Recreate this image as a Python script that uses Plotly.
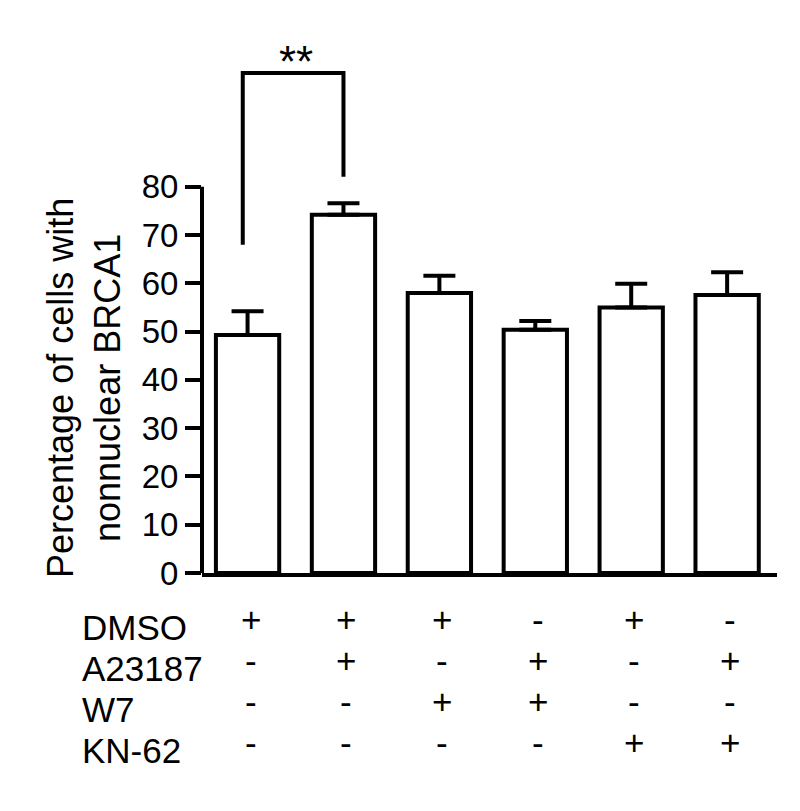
import plotly.graph_objects as go

# bar data (percentage of cells with nonnuclear BRCA1)
means = [49.3, 74.2, 58.0, 50.4, 55.0, 57.6]
errors = [4.9, 2.4, 3.6, 1.8, 4.9, 4.7]
groups = [0, 1, 2, 3, 4, 5]

# treatment table under the bars
treatments = ["DMSO", "A23187", "W7", "KN-62"]
signs = [
    ["+", "+", "+", "-", "+", "-"],
    ["-", "+", "-", "+", "-", "+"],
    ["-", "-", "+", "+", "-", "-"],
    ["-", "-", "-", "-", "+", "+"],
]

# significance bracket between group 0 and group 1
bracket_x = [-0.05, -0.05, 1, 1]
bracket_y = [68.0, 103.6, 103.6, 82.1]
bracket_label = "**"

yticks = [0, 10, 20, 30, 40, 50, 60, 70, 80]

FONT = "Liberation Sans, Arial, sans-serif"
OFF = 8  # page body margin
W, H = 800 - OFF, 811 - OFF
ML, MR, MT, MB = 202 - OFF, 23, 42 - OFF, 238
plot_w = W - ML - MR
plot_h = H - MT - MB


def px_(pix):
    # page pixel column -> paper x
    return (pix - OFF - ML) / plot_w


def py(pix):
    # page pixel row -> paper y
    return (H - MB - (pix - OFF)) / plot_h


fig = go.Figure()

fig.add_trace(go.Bar(
    x=groups, y=means, width=0.66,
    marker=dict(color="white", line=dict(color="black", width=4)),
    error_y=dict(type="data", symmetric=False, array=errors,
                 arrayminus=[0] * len(errors),
                 color="black", thickness=4, width=16),
    showlegend=False,
))

fig.add_trace(go.Scatter(
    x=bracket_x, y=bracket_y, mode="lines",
    line=dict(color="black", width=4),
    showlegend=False, hoverinfo="skip",
))

fig.add_annotation(x=0.5, y=bracket_y[1], xref="x", yref="y",
                   text=bracket_label, showarrow=False, yanchor="bottom",
                   yshift=-15, font=dict(size=44, color="black", family=FONT))

# y axis line only from 0 to 80
fig.add_shape(type="line", xref="paper", yref="y", x0=0, x1=0,
              y0=yticks[0], y1=yticks[-1],
              line=dict(color="black", width=4))

# y axis title
fig.add_annotation(x=px_(84), y=py(388), xref="paper", yref="paper",
                   text="Percentage of cells with<br>nonnuclear BRCA1",
                   textangle=-90, showarrow=False, xanchor="center", yanchor="middle",
                   font=dict(size=36, color="black", family=FONT))

# treatment table
label_rows = [627, 668, 709, 750]
sign_rows = [619, 660, 701, 742]
for r, name in enumerate(treatments):
    fig.add_annotation(x=px_(80), y=py(label_rows[r]),
                       xref="paper", yref="paper", text=name, showarrow=False,
                       xanchor="left", yanchor="middle",
                       font=dict(size=35, color="black", family=FONT))
    for c, s in enumerate(signs[r]):
        fig.add_annotation(x=groups[c], y=py(sign_rows[r]), xref="x", yref="paper",
                           text=s, showarrow=False, xanchor="center", yanchor="middle",
                           xshift=3,
                           font=dict(size=35, color="black", family=FONT))

fig.update_xaxes(range=[-0.475, 5.52], showticklabels=False, ticks="",
                 showgrid=False, zeroline=False, showline=True,
                 linecolor="black", linewidth=4)
fig.update_yaxes(range=[0, 110], tickvals=yticks, ticks="outside", ticklen=16,
                 tickwidth=4, tickcolor="black", showline=False, showgrid=False,
                 zeroline=False, tickfont=dict(size=33, color="black", family=FONT))

fig.update_layout(width=W, height=H, margin=dict(l=ML, r=MR, t=MT, b=MB),
                  plot_bgcolor="white", paper_bgcolor="white",
                  font=dict(family=FONT, color="black"))

fig.write_html("out.html")
